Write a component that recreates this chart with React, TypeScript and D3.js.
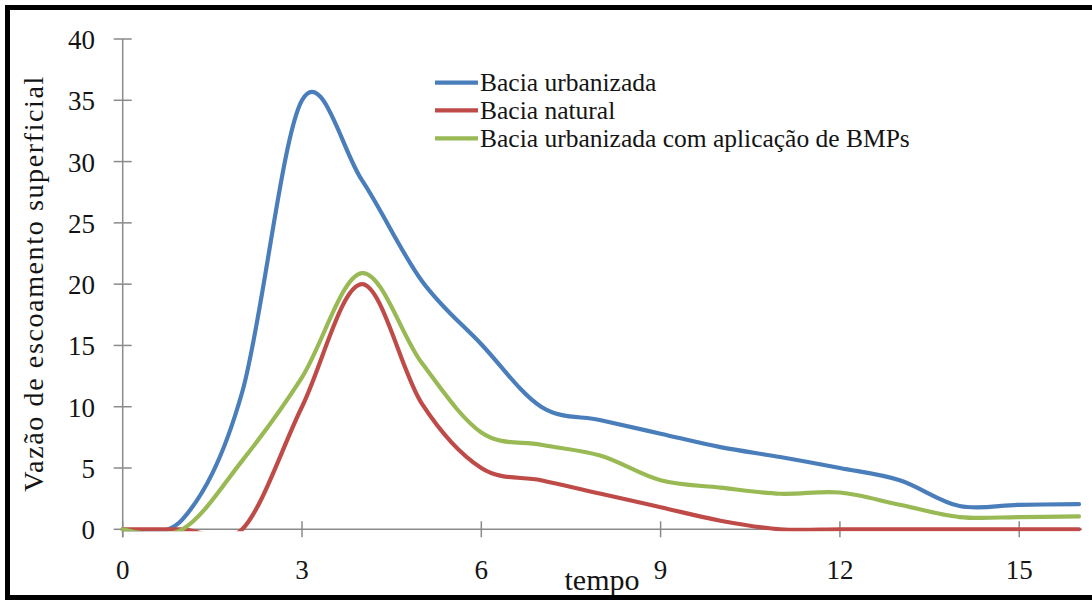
import React from "react";
import * as d3 from "d3";

const tempo = [0, 1, 2, 3, 4, 5, 6, 7, 8, 9, 10, 11, 12, 13, 14, 15, 16];
const baciaUrbanizada = [0, 0.8, 11.2, 35, 28.5, 20.3, 15.1, 10, 8.9, 7.8, 6.7, 5.9, 5.0, 4.0, 1.9, 2.0, 2.05];
const baciaNatural = [0, 0, 0, 10, 20, 10.3, 5.0, 4.0, 2.9, 1.8, 0.7, 0, 0, 0, 0, 0, 0];
const baciaBMP = [0, 0, 5.6, 12.4, 20.9, 13.6, 7.9, 6.9, 6.0, 4.0, 3.4, 2.9, 3.0, 2.0, 1.0, 1.0, 1.05];

const seriesNames = ["Bacia urbanizada", "Bacia natural", "Bacia urbanizada com aplicação de BMPs"];
const seriesColors = ["#4a7ebb", "#be4b48", "#98b954"];
const xTicks = [0, 3, 6, 9, 12, 15];
const yTicks = [0, 5, 10, 15, 20, 25, 30, 35, 40];
const xTitle = "tempo";
const yTitle = "Vazão de escoamento superficial";

const FONT = "'Liberation Serif', 'Times New Roman', serif";

export default function App() {
  const W = 1092;
  const H = 601;
  const x = d3.scaleLinear().domain([0, 16]).range([122.7, 1079]);
  const y = d3.scaleLinear().domain([0, 40]).range([529.3, 39]);
  const all = [baciaUrbanizada, baciaNatural, baciaBMP];
  const line = d3
    .line<number>()
    .x((_, i) => x(tempo[i]))
    .y((d) => y(d))
    .curve(d3.curveCardinal.tension(0));
  const axisColor = "#8a8a8a";
  const textColor = "#141414";
  const legendX0 = 435;
  const legendX1 = 478;
  const legendY = [82.7, 110.3, 138.3];

  return (
    <svg
      width={W}
      height={H}
      style={{ position: "absolute", left: 0, top: 0, background: "#fff" }}
      fontFamily={FONT}
    >
      <defs>
        <clipPath id="plotClip">
          <rect x={x(0) - 4} y={y(40) - 6} width={x(16) - x(0) + 8} height={y(0) - y(40) + 8} />
        </clipPath>
      </defs>
      <rect x={0} y={0} width={W} height={H} fill="#fff" />

      {/* y axis */}
      <line x1={x(0)} x2={x(0)} y1={y(40)} y2={y(0) + 8} stroke={axisColor} strokeWidth={1.5} />
      {yTicks.map((t) => (
        <g key={"y" + t}>
          <line x1={x(0) - 9} x2={x(0) + 9} y1={y(t)} y2={y(t)} stroke={axisColor} strokeWidth={1.5} />
          <text x={95} y={y(t) + 10} textAnchor="end" fontSize={27} fill={textColor}>
            {t}
          </text>
        </g>
      ))}

      {/* x axis */}
      <line x1={x(0)} x2={x(16) + 3} y1={y(0)} y2={y(0)} stroke={axisColor} strokeWidth={1.5} />
      {xTicks.map((t) => (
        <g key={"x" + t}>
          <line x1={x(t)} x2={x(t)} y1={y(0) - 8} y2={y(0) + 8} stroke={axisColor} strokeWidth={1.5} />
          <text x={x(t)} y={579} textAnchor="middle" fontSize={27} fill={textColor}>
            {t}
          </text>
        </g>
      ))}

      {/* series */}
      <g clipPath="url(#plotClip)">
        {all.map((s, i) => (
          <path
            key={i}
            d={line(s) || ""}
            fill="none"
            stroke={seriesColors[i]}
            strokeWidth={4.2}
            strokeLinejoin="round"
            strokeLinecap="round"
          />
        ))}
      </g>

      {/* legend */}
      {seriesNames.map((n, i) => (
        <g key={n}>
          <line
            x1={legendX0}
            x2={legendX1}
            y1={legendY[i]}
            y2={legendY[i]}
            stroke={seriesColors[i]}
            strokeWidth={4.2}
          />
          <text x={480} y={legendY[i] + 8.5} fontSize={25.5} fill={textColor}>
            {n}
          </text>
        </g>
      ))}

      {/* axis titles */}
      <text x={602} y={590} textAnchor="middle" fontSize={30} fill={textColor}>
        {xTitle}
      </text>
      <text
        transform={`translate(43, ${(y(0) + y(40)) / 2}) rotate(-90)`}
        textAnchor="middle"
        fontSize={28}
        textLength={415}
        lengthAdjust="spacing"
        fill={textColor}
      >
        {yTitle}
      </text>

      {/* frame */}
      <rect x={7.5} y={7.5} width={W + 10} height={590} fill="none" stroke="#000" strokeWidth={5} />
    </svg>
  );
}
